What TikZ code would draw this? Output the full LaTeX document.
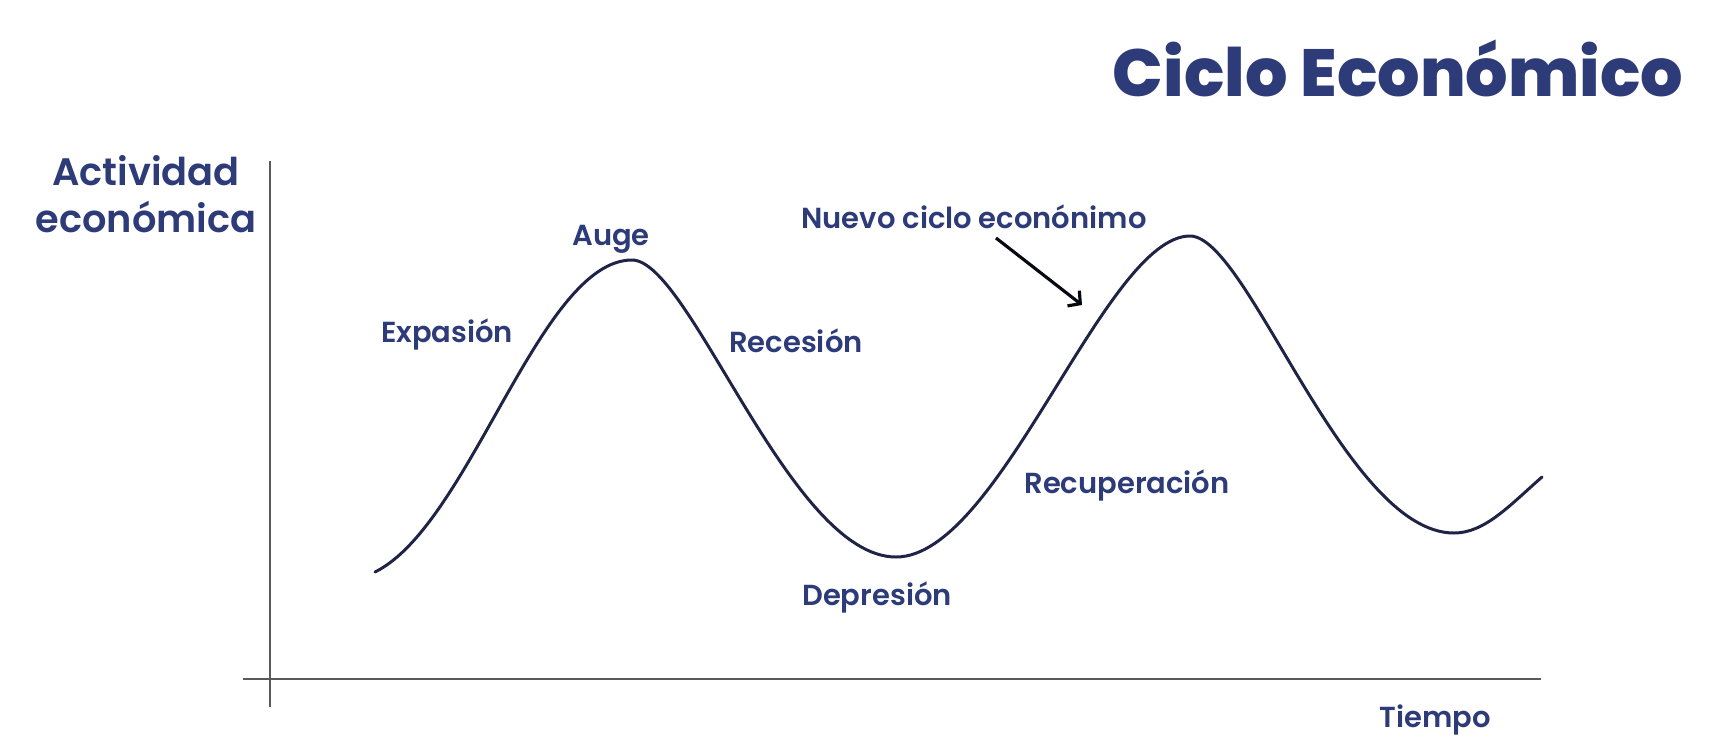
\documentclass[tikz,border=0pt]{standalone}
\usepackage{fontspec}
\setmainfont{Poppins}[UprightFont={* SemiBold},BoldFont={* ExtraBold}]
\usetikzlibrary{arrows.meta}
\definecolor{navy}{HTML}{2D3B78}
\definecolor{curveink}{HTML}{1F2446}
\definecolor{axisgray}{HTML}{595959}
\tikzset{
  phase/.style={anchor=base,inner sep=0pt,text=navy,font=\fontsize{16.5}{20}\selectfont},
  axisline/.style={draw=axisgray,line width=1.1pt},
  arrowline/.style={draw=black!85!navy,line width=1.8pt,-{Straight Barb[length=5pt,width=11pt]}}
}
\begin{document}
\begin{tikzpicture}[x=0.02cm,y=-0.02cm]
\useasboundingbox (0,0) rectangle (1718,752);
% axes
\coordinate (YT) at (270,161);
\coordinate (YB) at (270,707);
\coordinate (XL) at (243,679);
\coordinate (XR) at (1541,679);
\draw[axisline,line width=0.9pt] (YT) -- (YB);
\draw[axisline,line width=1.5pt] (XL) -- (XR);
% title and axis labels
\node[anchor=base,inner sep=0pt,text=navy,font=\bfseries\fontsize{38}{42}\selectfont] (title) at (1398,96) {Ciclo Económico};
\node[inner sep=0pt,text=navy,align=center,font=\fontsize{21.8}{26.6}\selectfont] (actividad) at (146,194) {Actividad\\económica};
\node[phase] (tiempo) at (1435,727) {Tiempo};
% the cycle
\coordinate (start) at (375,572);
\coordinate (peakA) at (632,260);
\coordinate (troughA) at (896,557);
\coordinate (peakB) at (1190,236);
\coordinate (troughB) at (1454,533);
\coordinate (end) at (1542,477);
\draw[curveink,line width=1.7pt,line cap=round]
  (start) .. controls (470,525) and (540,260) .. (peakA)
  .. controls (690,260) and (790,557) .. (troughA)
  .. controls (1000,557) and (1105,236) .. (peakB)
  .. controls (1248,236) and (1345,533) .. (troughB)
  .. controls (1485,533) and (1510,505) .. (end);
% phases
\foreach \n/\x/\y/\t in {auge/611/245/Auge,expasion/447/342/Expasión,recesion/796/352/Recesión,
  depresion/877/605/Depresión,recuperacion/1127/493/Recuperación,nuevo/974/228/Nuevo ciclo econónimo} {
  \node[phase] (\n) at (\x,\y) {\t};
}
\coordinate (arrowtail) at (996,238);
\coordinate (arrowtip) at (1082,305);
\draw[arrowline] (arrowtail) -- (arrowtip);
\end{tikzpicture}
\end{document}
